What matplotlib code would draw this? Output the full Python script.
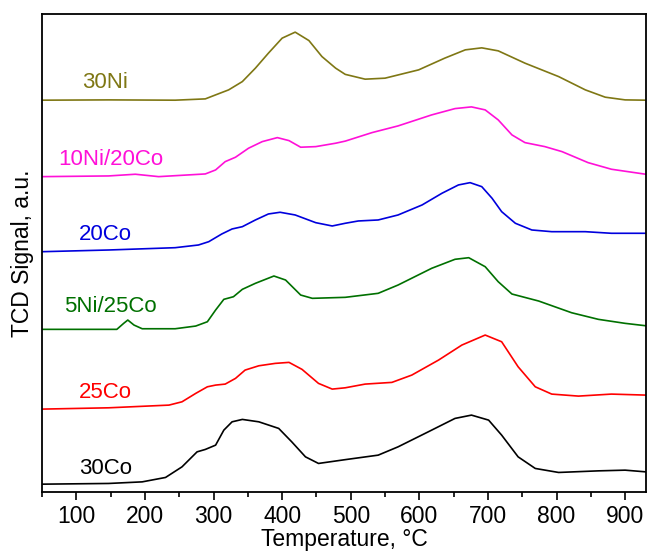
import numpy as np
import matplotlib
matplotlib.use("Agg")
from matplotlib import pyplot as plt
from matplotlib.ticker import MultipleLocator

plt.rcParams['font.family'] = ['Liberation Sans', 'DejaVu Sans']

# TPR curves (temperature in C, signal in a.u., already stacked)
t_30co = [50, 147, 196, 230, 254, 276, 288, 303, 315, 327, 342, 366, 395, 414, 434, 453, 492,
          540, 569, 613, 652, 676, 701, 720, 744, 769, 803, 861, 900, 930]
s_30co = [8, 8.7, 10.3, 14.7, 25.3, 40.3, 42.7, 47, 62, 70.3, 72.7, 70.3, 63.7, 50.3, 35.3, 28.7, 32.5,
          37, 45.3, 60.3, 73.7, 77, 72, 57, 35.3, 23.7, 19.7, 21.3, 22, 20.3]

t_25co = [50, 147, 235, 254, 274, 291, 303, 317, 332, 346, 366, 390, 410, 429, 453, 473, 492,
          521, 560, 589, 628, 662, 696, 720, 744, 769, 793, 832, 880, 930]
s_25co = [83, 84.3, 87, 90.3, 98.7, 105.3, 107, 108, 113.7, 122, 126.3, 128.7, 129.7, 122.7, 108.7, 103, 104.3,
          108, 109.7, 117, 132, 147, 157, 150.3, 125.3, 105.3, 98, 96, 98, 97]

t_5ni25co = [50, 159, 169, 175, 184, 196, 244, 274, 291, 303, 315, 329, 342, 361, 388, 405, 427, 444, 492,
             540, 569, 618, 652, 672, 696, 715, 735, 774, 822, 861, 900, 930]
s_5ni25co = [162.7, 162.7, 168.7, 172, 167, 163.3, 163.3, 166, 170.3, 182, 192.7, 195.3, 202.7, 208.7, 216, 212, 197, 193.7, 194.7,
             198.7, 207, 223.7, 232.7, 234.3, 225.3, 210.3, 198, 191, 179.3, 172.7, 168.7, 166.3]

t_20co = [50, 147, 244, 278, 293, 312, 327, 342, 361, 380, 397, 419, 449, 473, 492,
          511, 540, 569, 604, 633, 657, 674, 691, 706, 720, 740, 764, 793, 842, 880, 930]
s_20co = [240.3, 242, 244.3, 247, 250.3, 258, 263, 265.3, 272, 278, 279.7, 277, 269.3, 266, 268.7,
          271, 272, 277, 287, 298.7, 307, 309.3, 305.3, 293.7, 280.3, 268.7, 262, 260.3, 260.3, 258.7, 258.7]

t_10ni20co = [50, 147, 186, 220, 288, 303, 317, 332, 351, 371, 393, 410, 427, 449, 478, 492,
              531, 569, 618, 652, 676, 696, 715, 735, 754, 783, 808, 846, 880, 930]
s_10ni20co = [315.3, 316, 317.7, 315.3, 318, 322, 330.3, 334.7, 343.7, 350.3, 354.3, 351.3, 344.7, 345.3, 348.7, 350.8,
              359.3, 366, 377, 383.3, 385, 382, 372, 357, 349.3, 345.3, 340.3, 329.3, 322.7, 317.7]

t_30ni = [50, 147, 244, 288, 303, 322, 342, 361, 380, 400, 419, 439, 458, 478, 492,
          521, 550, 599, 637, 667, 691, 715, 754, 803, 842, 871, 900, 930]
s_30ni = [391.7, 392, 391.7, 393, 397, 402, 410.3, 423.7, 438.7, 453.7, 459.7, 451.3, 435.3, 423.7, 417.5,
          412.7, 413.7, 422, 433.7, 442, 444, 441, 428.7, 415.3, 402, 394.7, 392, 391.7]

names = ['30Co', '25Co', '5Ni/25Co', '20Co', '10Ni/20Co', '30Ni']
colors = ['black', '#ff0000', '#007000', '#0000dd', '#ff10d8', '#7f7714']
temps = [t_30co, t_25co, t_5ni25co, t_20co, t_10ni20co, t_30ni]
signals = [s_30co, s_25co, s_5ni25co, s_20co, s_10ni20co, s_30ni]

# where the sample names sit (data coords)
label_pos = [(104, 23.7), (104, 99.3), (82, 185.3), (104, 257), (74, 332), (109, 409)]

fig = plt.figure(figsize=(6.47, 5.53), dpi=100)
ax = fig.add_axes([0.065, 0.110, 0.933, 0.865])

for t, s, c, n, p in zip(temps, signals, colors, names, label_pos):
    ax.plot(t, s, color=c, lw=1.2, solid_joinstyle='round')
    ax.text(p[0], p[1], n, color=c, fontsize=16, ha='left', va='center')

ax.set_xlim(50, 930)
ax.set_ylim(0, 478)
ax.xaxis.set_major_locator(MultipleLocator(100))
ax.xaxis.set_minor_locator(MultipleLocator(50))
ax.set_yticks([])
ax.tick_params(axis='x', which='major', direction='out', length=6, width=1.2, labelsize=16.5)
ax.tick_params(axis='x', which='minor', direction='out', length=3.5, width=1.2)
for sp in ax.spines.values():
    sp.set_linewidth(1.3)

ax.set_xlabel('Temperature, °C', fontsize=16.5, labelpad=0)
ax.set_ylabel('TCD Signal, a.u.', fontsize=16.5, labelpad=6)

plt.savefig('out.png', dpi=100)
